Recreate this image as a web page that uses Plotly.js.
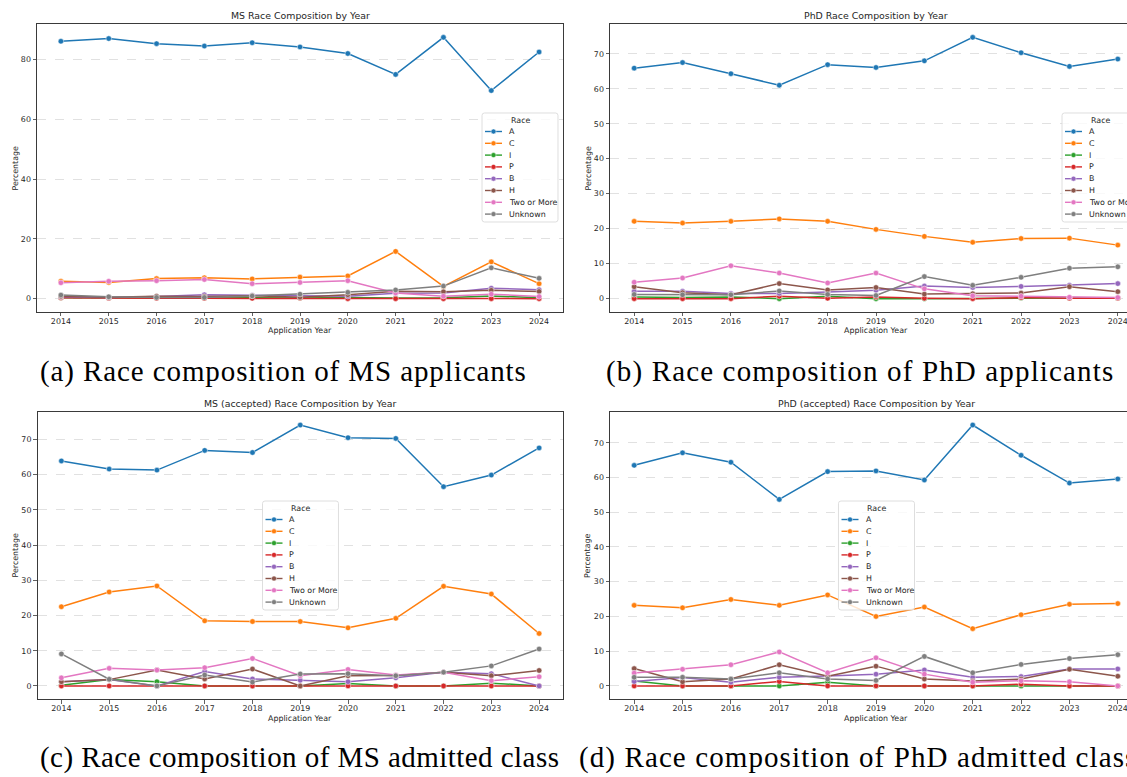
<!DOCTYPE html>
<html>
<head>
<meta charset="utf-8">
<script src="https://cdn.plot.ly/plotly-3.0.1.min.js"></script>
<style>
html,body{margin:0;padding:0;overflow:hidden;background:#ffffff;}
#chart{width:1145px;height:777px;}
</style>
</head>
<body>
<div id="chart"></div>
<script>
const years = [2014,2015,2016,2017,2018,2019,2020,2021,2022,2023,2024];
const raceNames = ["A","C","I","P","B","H","Two or More","Unknown"];
const raceColors = ["#1f77b4","#ff7f0e","#2ca02c","#d62728","#9467bd","#8c564b","#e377c2","#7f7f7f"];

// (a) MS applicants
const msApp_A   = [86.1,87.0,85.3,84.5,85.6,84.2,82.0,75.0,87.4,69.6,82.5];
const msApp_C   = [5.8,5.4,6.7,7.0,6.6,7.2,7.6,15.8,4.1,12.3,5.0];
const msApp_I   = [0.3,0.2,0.3,0.2,0.3,0.2,0.4,0.2,0.3,0.9,0.3];
const msApp_P   = [0.3,0.1,0.1,0.1,0.1,0.2,0.0,0.0,0.0,0.0,0.0];
const msApp_B   = [0.6,0.4,0.7,1.3,1.1,1.0,0.8,1.8,1.9,3.5,3.0];
const msApp_H   = [0.8,0.5,0.8,0.7,1.0,0.5,1.3,2.5,2.3,2.8,2.4];
const msApp_Two = [5.3,5.8,6.0,6.4,5.0,5.4,6.0,1.9,0.8,1.5,0.7];
const msApp_Unk = [1.2,0.6,0.4,0.4,0.9,1.5,2.1,2.9,4.2,10.3,6.8];

// (b) PhD applicants
const phdApp_A   = [65.9,67.5,64.3,61.0,66.9,66.1,68.0,74.7,70.3,66.4,68.5];
const phdApp_C   = [22.1,21.6,22.1,22.8,22.1,19.8,17.8,16.1,17.2,17.3,15.3];
const phdApp_I   = [0.5,0.3,0.5,0.0,0.7,0.0,0.0,0.1,0.2,0.2,0.1];
const phdApp_P   = [0.0,0.0,0.0,0.7,0.1,0.5,0.1,0.0,0.3,0.1,0.1];
const phdApp_B   = [2.1,2.1,1.5,1.5,1.9,2.4,3.6,3.2,3.5,3.8,4.3];
const phdApp_H   = [3.4,1.7,1.1,4.3,2.5,3.2,1.3,1.4,1.6,3.4,2.0];
const phdApp_Two = [4.7,5.9,9.4,7.3,4.5,7.3,2.8,0.8,0.7,0.4,0.3];
const phdApp_Unk = [1.2,1.1,1.1,2.2,1.2,0.9,6.3,3.8,6.1,8.7,9.1];

// (c) MS accepted
const msAcc_A   = [63.9,61.6,61.3,66.9,66.3,74.1,70.5,70.3,56.6,59.9,67.6];
const msAcc_C   = [22.5,26.7,28.4,18.5,18.3,18.3,16.5,19.2,28.3,26.1,14.9];
const msAcc_I   = [0.2,1.8,1.2,0.0,0.0,0.0,0.7,0.0,0.0,0.8,0.0];
const msAcc_P   = [0.0,0.0,0.0,0.0,0.0,0.0,0.0,0.0,0.0,0.0,0.0];
const msAcc_B   = [1.2,1.8,0.0,4.1,2.0,1.6,1.2,2.3,3.9,3.5,0.0];
const msAcc_H   = [1.2,1.8,4.5,2.0,4.8,0.0,2.9,3.0,3.9,2.9,4.4];
const msAcc_Two = [2.3,5.0,4.5,5.2,7.8,2.9,4.7,3.1,3.9,1.5,2.6];
const msAcc_Unk = [9.1,1.9,0.0,3.1,1.1,3.4,3.5,2.9,3.9,5.7,10.5];

// (d) PhD accepted
const phdAcc_A   = [63.5,67.1,64.4,53.7,61.7,61.9,59.3,75.1,66.4,58.4,59.6];
const phdAcc_C   = [23.2,22.5,24.9,23.2,26.2,20.0,22.7,16.5,20.5,23.5,23.7];
const phdAcc_I   = [1.4,0.0,0.0,0.0,1.1,0.0,0.0,0.0,0.0,0.0,0.0];
const phdAcc_P   = [0.0,0.0,0.0,1.3,0.0,0.0,0.0,0.0,0.5,0.0,0.0];
const phdAcc_B   = [1.3,2.4,1.1,2.5,2.9,3.4,4.6,2.5,2.7,4.9,4.9];
const phdAcc_H   = [5.0,1.2,2.0,6.1,2.8,5.7,2.0,1.4,2.0,4.8,2.8];
const phdAcc_Two = [3.7,4.8,6.1,9.8,3.8,8.1,3.4,1.1,1.5,1.2,0.0];
const phdAcc_Unk = [2.5,2.5,2.0,3.8,2.0,1.6,8.5,3.8,6.2,7.9,9.0];

const panelTitles = ["MS Race Composition by Year","PhD Race Composition by Year",
  "MS (accepted) Race Composition by Year","PhD (accepted) Race Composition by Year"];
const panelCaptions = ["(a) Race composition of MS applicants","(b) Race composition of PhD applicants",
  "(c) Race composition of MS admitted class","(d) Race composition of PhD admitted class"];
const panelSeries = [
  [msApp_A,msApp_C,msApp_I,msApp_P,msApp_B,msApp_H,msApp_Two,msApp_Unk],
  [phdApp_A,phdApp_C,phdApp_I,phdApp_P,phdApp_B,phdApp_H,phdApp_Two,phdApp_Unk],
  [msAcc_A,msAcc_C,msAcc_I,msAcc_P,msAcc_B,msAcc_H,msAcc_Two,msAcc_Unk],
  [phdAcc_A,phdAcc_C,phdAcc_I,phdAcc_P,phdAcc_B,phdAcc_H,phdAcc_Two,phdAcc_Unk]
];
const xLabel = "Application Year";
const yLabel = "Percentage";
const legendTitle = "Race";

// ---- layout geometry (pixels) ----
const W = 1145, H = 777;
const fx = p => p / W;
const fy = p => 1 - p / H;
const geom = [
  {x0:37,  x1:563,  y0:24.3, y1:311.7, ytick:20, legX:482,   legY:113, capX:38,  capY:371, capLS:0.9},
  {x0:610, x1:1142, y0:24.3, y1:311.7, ytick:10, legX:1062,  legY:113, capX:604, capY:371, capLS:1.15},
  {x0:37.5,x1:563,  y0:412,  y1:699,   ytick:10, legX:262.5, legY:501, capX:38,  capY:757, capLS:0.45},
  {x0:610, x1:1142, y0:412,  y1:699,   ytick:10, legX:838.5, legY:501, capX:577, capY:757, capLS:1.1}
];

const textFont = "DejaVu Sans";
const axisColor = "#3a3a3a";
const traces = [];
const annotations = [];
const shapes = [];
const layout = {
  width: W, height: H,
  margin: {l:0, r:0, t:0, b:0, pad:0},
  paper_bgcolor: "#ffffff", plot_bgcolor: "#ffffff",
  showlegend: false,
  font: {family: textFont, color: "#262626", size: 8}
};

function roundRect(x0, y0, x1, y1, r) {
  const X = v => fx(v).toFixed(6), Y = v => fy(v).toFixed(6);
  return `M${X(x0+r)},${Y(y0)} L${X(x1-r)},${Y(y0)} Q${X(x1)},${Y(y0)} ${X(x1)},${Y(y0+r)} ` +
         `L${X(x1)},${Y(y1-r)} Q${X(x1)},${Y(y1)} ${X(x1-r)},${Y(y1)} L${X(x0+r)},${Y(y1)} ` +
         `Q${X(x0)},${Y(y1)} ${X(x0)},${Y(y1-r)} L${X(x0)},${Y(y0+r)} Q${X(x0)},${Y(y0)} ${X(x0+r)},${Y(y0)} Z`;
}

panelSeries.forEach((series, pi) => {
  const g = geom[pi];
  const sfx = pi === 0 ? "" : String(pi + 1);
  let maxV = 0;
  series.forEach(s => s.forEach(v => { if (v > maxV) maxV = v; }));
  const yr = [-0.05 * maxV, 1.05 * maxV];

  layout["xaxis" + sfx] = {
    domain: [fx(g.x0), fx(g.x1)], anchor: "y" + sfx,
    range: [2013.5, 2024.5], tickmode: "array", tickvals: years, ticktext: years.map(String),
    ticks: "outside", ticklen: 3.5, tickwidth: 0.8, tickcolor: axisColor,
    showline: true, linecolor: axisColor, linewidth: 1, mirror: true,
    showgrid: false, zeroline: false, ticklabelstandoff: -2,
    tickfont: {family: textFont, size: 7.9, color: "#262626"}
  };
  layout["yaxis" + sfx] = {
    domain: [fy(g.y1), fy(g.y0)], anchor: "x" + sfx,
    range: yr, tick0: 0, dtick: g.ytick,
    ticks: "outside", ticklen: 3.5, tickwidth: 0.8, tickcolor: axisColor,
    showline: true, linecolor: axisColor, linewidth: 1, mirror: true,
    showgrid: true, gridcolor: "#d4d4d4", gridwidth: 0.7, griddash: "dash",
    zeroline: false,
    tickfont: {family: textFont, size: 7.9, color: "#262626"}
  };

  series.forEach((vals, ri) => {
    traces.push({
      type: "scatter", mode: "lines+markers",
      x: years, y: vals, name: raceNames[ri],
      xaxis: "x" + sfx, yaxis: "y" + sfx,
      line: {color: raceColors[ri], width: 1.5},
      marker: {color: raceColors[ri], size: 5.5, line: {color: "#ffffff", width: 0.5}},
      hoverinfo: "skip", showlegend: false
    });
  });

  const cx = (g.x0 + g.x1) / 2;
  // title
  annotations.push({xref:"paper", yref:"paper", x: fx(cx), y: fy(g.y0 - 8.3),
    xanchor:"center", yanchor:"middle", showarrow:false, text: panelTitles[pi],
    font:{family:textFont, size:9.4, color:"#262626"}});
  // x label
  annotations.push({xref:"paper", yref:"paper", x: fx(cx), y: fy(g.y1 + 19),
    xanchor:"center", yanchor:"middle", showarrow:false, text: xLabel,
    font:{family:textFont, size:7.9, color:"#262626"}});
  // y label
  annotations.push({xref:"paper", yref:"paper", x: fx(g.x0 - 22.5), y: fy((g.y0 + g.y1) / 2),
    xanchor:"center", yanchor:"middle", showarrow:false, text: yLabel, textangle:-90,
    font:{family:textFont, size:7.9, color:"#262626"}});
  // caption
  annotations.push({xref:"paper", yref:"paper", x: fx(g.capX), y: fy(g.capY),
    xanchor:"left", yanchor:"middle", showarrow:false,
    text: '<span style="letter-spacing:' + g.capLS + 'px">' + panelCaptions[pi] + '</span>',
    font:{family:"Liberation Serif", size:29, color:"#000000"}});

  // legend (drawn from the names / colours arrays)
  const lw = 76, lh = 109;
  shapes.push({type:"path", xref:"paper", yref:"paper", layer:"above",
    path: roundRect(g.legX, g.legY, g.legX + lw, g.legY + lh, 2.5),
    fillcolor:"rgba(255,255,255,0.8)", line:{color:"#d6d6d6", width:0.8}});
  annotations.push({xref:"paper", yref:"paper", x: fx(g.legX + lw / 2), y: fy(g.legY + 7.5),
    xanchor:"center", yanchor:"middle", showarrow:false, text: legendTitle,
    font:{family:textFont, size:7.9, color:"#262626"}});
  raceNames.forEach((nm, ri) => {
    const iy = g.legY + 18.5 + ri * 11.8;
    shapes.push({type:"line", xref:"paper", yref:"paper", layer:"above",
      x0: fx(g.legX + 3), x1: fx(g.legX + 20), y0: fy(iy), y1: fy(iy),
      line:{color: raceColors[ri], width:1.4}});
    const mr = 2.5, mx = g.legX + 11.5;
    shapes.push({type:"circle", xref:"paper", yref:"paper", layer:"above",
      x0: fx(mx - mr), x1: fx(mx + mr), y0: fy(iy + mr), y1: fy(iy - mr),
      fillcolor: raceColors[ri], line:{color:"#ffffff", width:0.5}});
    annotations.push({xref:"paper", yref:"paper", x: fx(g.legX + 25), y: fy(iy),
      xanchor:"left", yanchor:"middle", showarrow:false, text: nm,
      font:{family:textFont, size:7.9, color:"#262626"}});
  });
});

layout.annotations = annotations;
layout.shapes = shapes;

Plotly.newPlot("chart", traces, layout, {displayModeBar:false, staticPlot:true, responsive:false});
</script>
</body>
</html>
